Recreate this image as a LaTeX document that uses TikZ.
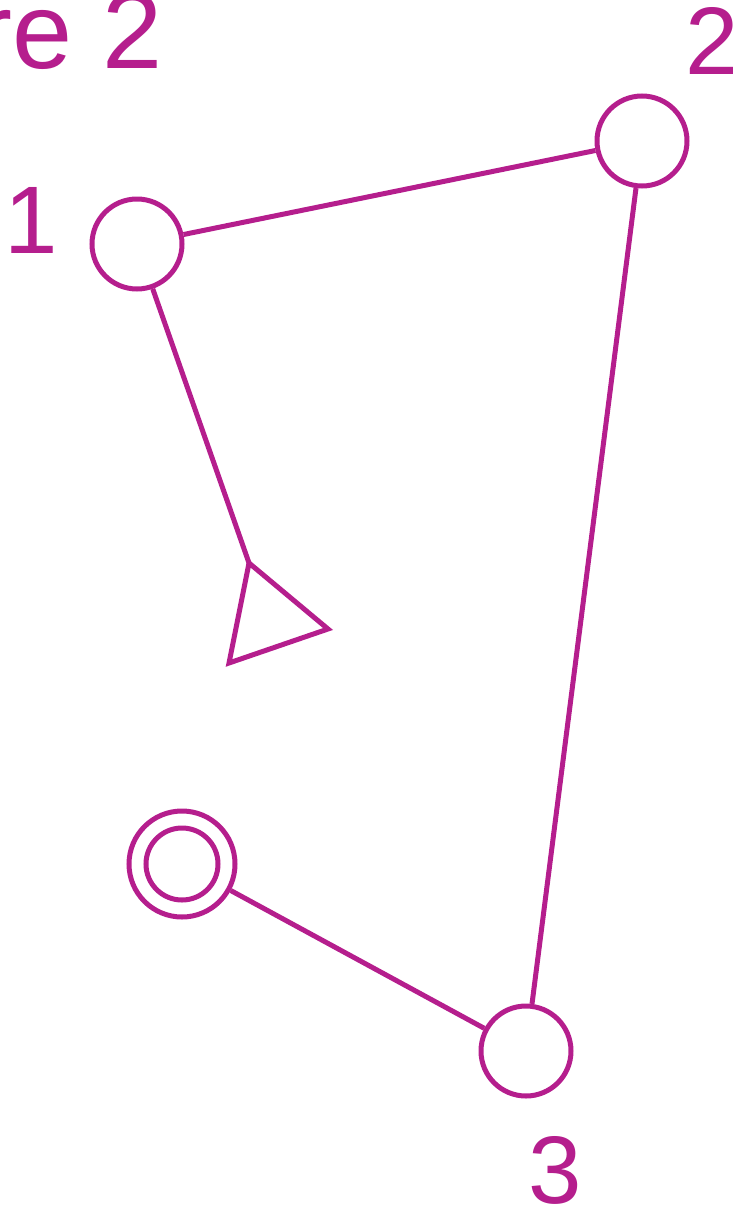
\documentclass[tikz,border=0pt]{standalone}
\usepackage{fontspec}
\setmainfont{Liberation Sans}
\definecolor{mag}{RGB}{181,30,141}
\begin{document}
\begin{tikzpicture}[x=1pt,y=-1pt,
  state/.style={circle, draw=mag, minimum size=90pt, inner sep=0pt, line width=5pt},
  conn/.style={draw=mag, line width=5pt},
  lab/.style={text=mag, font=\fontsize{96}{96}\selectfont, inner sep=0pt, anchor=base west},
  ttl/.style={text=mag, font=\fontsize{108}{108}\selectfont, inner sep=0pt, anchor=base east}]
\useasboundingbox (0,0) rectangle (733,1210);
\clip (0,0) rectangle (733,1210);
\node[ttl] (title) at (163,68) {re 2};
\node[state] (n1) at (137,244) {};
\node[state] (n2) at (642,141) {};
\node[state] (n3) at (526,1051) {};
\node[state, minimum size=106pt] (acc) at (182,864) {};
\node[state, minimum size=72pt] (accin) at (182,864) {};
\node[lab] (l1) at (4.6,253) {1};
\node[lab] (l2) at (685,74) {2};
\node[lab] (l3) at (528,1203) {3};
\coordinate (t1) at (249,563);
\coordinate (t2) at (328,629);
\coordinate (t3) at (229,663);
\draw[conn, line join=miter] (t1) -- (t2) -- (t3) -- cycle;
\draw[conn] (n1) -- (t1);
\draw[conn] (n1) -- (n2);
\draw[conn] (n2) -- (n3);
\draw[conn] (acc) -- (n3);
\end{tikzpicture}
\end{document}
